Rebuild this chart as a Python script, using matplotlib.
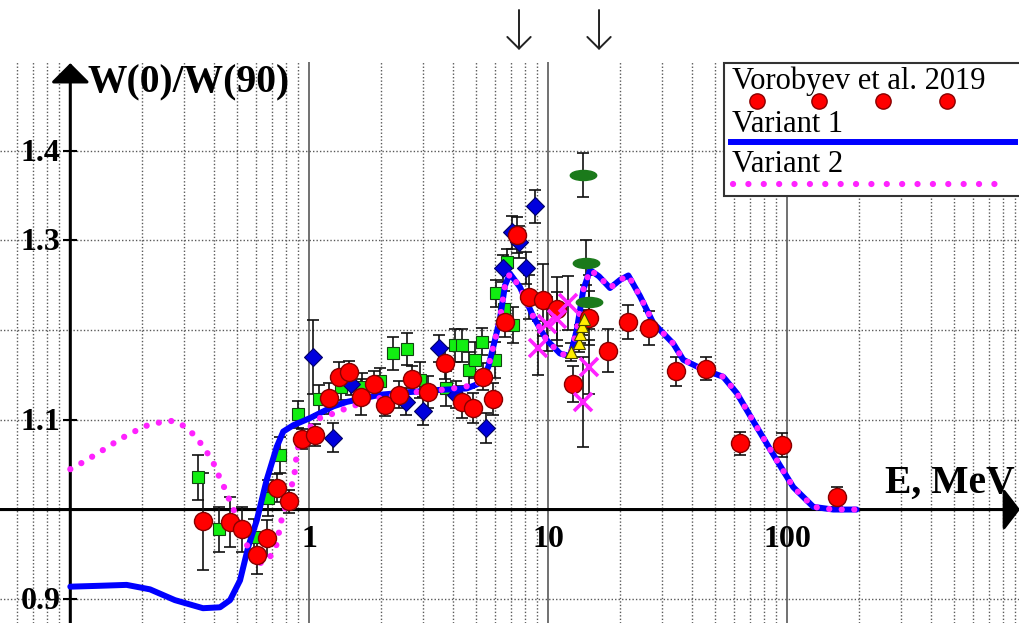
"""W(0)/W(90) angular-anisotropy comparison: Vorobyev et al. 2019 vs two model variants."""
import matplotlib

matplotlib.use("Agg")
import matplotlib.pyplot as plt
from matplotlib.patches import Rectangle
from matplotlib.path import Path
from matplotlib.transforms import Affine2D

# ---- data (E in MeV, W = W(0)/W(90)) ----
vor_e = [0.358, 0.466, 0.525, 0.604, 0.663, 0.731, 0.826, 0.929, 1.056, 1.209,
         1.334, 1.470, 1.638, 1.861, 2.070, 2.381, 2.702, 3.147, 3.697, 4.355,
         4.841, 5.316, 5.888, 6.590, 7.417, 8.329, 9.475, 10.84, 12.69, 14.85,
         17.69, 21.56, 26.38, 34.21, 45.7, 63.4, 94.8, 161.0]
vor_w = [0.987, 0.986, 0.978, 0.949, 0.968, 1.024, 1.009, 1.079, 1.083, 1.124,
         1.148, 1.153, 1.125, 1.140, 1.117, 1.128, 1.145, 1.131, 1.163, 1.120,
         1.113, 1.148, 1.123, 1.209, 1.306, 1.237, 1.234, 1.224, 1.140, 1.214,
         1.177, 1.209, 1.202, 1.154, 1.157, 1.074, 1.072, 1.014]
vor_err = [0.054, 0.028, 0.025, 0.021, 0.020, 0.016, 0.013, 0.011, 0.012, 0.017,
           0.017, 0.013, 0.020, 0.015, 0.013, 0.015, 0.015, 0.018, 0.017, 0.018,
           0.017, 0.015, 0.018, 0.017, 0.020, 0.025, 0.040, 0.035, 0.020, 0.030,
           0.024, 0.019, 0.019, 0.016, 0.013, 0.013, 0.013, 0.011]

grn_e = [0.342, 0.420, 0.587, 0.674, 0.754, 0.899, 1.100, 1.351, 1.656, 1.970,
         2.246, 2.556, 2.918, 3.750, 4.051, 4.375, 4.659, 4.934, 5.266, 5.956,
         6.070, 6.496, 6.699, 7.139]
grn_w = [1.036, 0.978, 0.969, 1.013, 1.061, 1.106, 1.123, 1.137, 1.137, 1.143,
         1.174, 1.179, 1.144, 1.135, 1.183, 1.183, 1.156, 1.167, 1.187, 1.167,
         1.241, 1.224, 1.276, 1.206]
grn_err = [0.025, 0.025, 0.020, 0.020, 0.020, 0.015, 0.016, 0.015, 0.015, 0.015,
           0.018, 0.018, 0.020, 0.020, 0.018, 0.018, 0.020, 0.020, 0.015, 0.020,
           0.015, 0.020, 0.015, 0.020]

blu_e = [1.033, 1.251, 1.494, 2.539, 2.983, 3.499, 4.110, 5.512, 6.464, 7.05, 7.54, 8.03, 8.80]
blu_w = [1.170, 1.080, 1.140, 1.120, 1.110, 1.180, 1.128, 1.091, 1.269, 1.309, 1.298, 1.269, 1.338]
blu_err = [0.041, 0.016, 0.012, 0.015, 0.016, 0.015, 0.015, 0.017, 0.015, 0.018, 0.018, 0.018, 0.018]

crs_e = [9.08, 9.88, 10.87, 12.09, 13.97, 14.85]
crs_w = [1.180, 1.207, 1.212, 1.230, 1.120, 1.159]
crs_err = [0.030, 0.030, 0.030, 0.030, 0.050, 0.030]

yel_e = [12.44, 13.44, 13.57, 13.84, 14.11]
yel_w = [1.176, 1.186, 1.196, 1.205, 1.212]
yel_err = [0.010, 0.010, 0.010, 0.010, 0.010]

dsh_e = [14.01, 14.38, 14.85]
dsh_w = [1.373, 1.275, 1.231]
dsh_err = [0.025, 0.025, 0.030]

# model curves: low-energy parts differ, above ~5.6 MeV they coincide
v1_low_e = [0.1, 0.133, 0.172, 0.2156, 0.274, 0.359, 0.423, 0.466, 0.513, 0.556,
            0.603, 0.663, 0.731, 0.778, 0.857, 1.007, 1.26, 1.434, 1.976, 2.638,
            3.302, 4.557, 5.179]
v1_low_w = [0.914, 0.915, 0.916, 0.911, 0.899, 0.890, 0.891, 0.899, 0.921, 0.959,
            0.988, 1.033, 1.070, 1.087, 1.094, 1.102, 1.115, 1.120, 1.128, 1.131,
            1.133, 1.135, 1.141]
v2_low_e = [0.1, 0.1134, 0.129, 0.144, 0.1625, 0.1824, 0.2054, 0.2357, 0.270, 0.305,
            0.338, 0.366, 0.394, 0.416, 0.440, 0.4626, 0.489, 0.513, 0.538, 0.565,
            0.606, 0.674, 0.726, 0.766, 0.799, 0.830, 0.863, 0.877, 0.891, 0.920,
            1.007, 1.109, 1.26, 1.434, 1.630, 1.853, 2.141, 2.474, 2.814, 3.757,
            4.984, 5.433]
v2_low_w = [1.045, 1.053, 1.062, 1.070, 1.079, 1.086, 1.093, 1.097, 1.099, 1.092,
            1.080, 1.067, 1.054, 1.039, 1.025, 1.011, 0.996, 0.981, 0.966, 0.952,
            0.939, 0.944, 0.959, 0.989, 1.005, 1.021, 1.035, 1.052, 1.066, 1.081,
            1.092, 1.102, 1.107, 1.113, 1.118, 1.123, 1.126, 1.129, 1.131, 1.134,
            1.139, 1.150]
shared_e = [5.61, 5.98, 6.28, 6.59, 6.91, 7.61, 8.66, 9.85, 11.19, 12.33,
            13.15, 14.01, 14.95, 16.30, 18.12, 19.95, 21.62, 24.19, 27.49, 33.34,
            36.7, 44.5, 53.96, 61.4, 74.5, 90.3, 105.9, 128.5, 155.7, 195.0]
shared_w = [1.159, 1.189, 1.213, 1.250, 1.263, 1.248, 1.215, 1.189, 1.174, 1.171,
            1.200, 1.245, 1.267, 1.260, 1.247, 1.256, 1.261, 1.238, 1.208, 1.185,
            1.167, 1.156, 1.148, 1.130, 1.092, 1.055, 1.025, 1.003, 1.000, 1.000]

x_major = [1, 10, 100]
x_minor = [0.06, 0.07, 0.08, 0.09] + [m * d for d in (0.1, 1, 10, 100) for m in range(2, 10)]
y_grid = [0.9, 1.1, 1.2, 1.3, 1.4]
y_labels = {0.9: "0.9", 1.1: "1.1", 1.3: "1.3", 1.4: "1.4"}
arrow_energies = [7.54, 16.3]

FIG_W, FIG_H = 1020, 623
SERIF = "Liberation Serif"
RED, BLUE, MAG = "#ff0000", "#0000ff", "#ff22ff"

# flat ellipse marker for the dark-green points
DASH_MARKER = Path.unit_circle().transformed(Affine2D().scale(1.0, 0.38))


def main() -> None:
    fig = plt.figure(figsize=(FIG_W / 100, FIG_H / 100), dpi=100)
    ax = fig.add_axes([0, 0, 1, (FIG_H - 62) / FIG_H])
    ax.set_xscale("log")
    ax.set_xlim(0.0508, 941)
    ax.set_ylim(0.8735, 1.499)
    for s in ax.spines.values():
        s.set_visible(False)

    ax.set_xticks(x_major)
    ax.set_xticks(x_minor, minor=True)
    ax.set_yticks([])
    ax.set_yticks(y_grid, minor=True)
    ax.tick_params(which="both", length=0, labelbottom=False, labelleft=False)
    ax.grid(True, which="major", axis="x", color="0.4", lw=1.3, ls="-", zorder=0)
    ax.grid(True, which="minor", color="0.35", lw=1.0, ls=(0, (1, 1.5)), zorder=0)

    # axes with arrow heads
    ax.annotate("", xy=(1.0, 1.0), xycoords=("axes fraction", "data"),
                xytext=(0.0, 1.0), textcoords=("axes fraction", "data"),
                arrowprops=dict(arrowstyle="-|>,head_length=0.5,head_width=0.65",
                                lw=2.2, color="k", mutation_scale=20, shrinkA=0, shrinkB=0),
                zorder=2)
    ax.annotate("", xy=(0.1, 0.998), xycoords=("data", "axes fraction"),
                xytext=(0.1, 0.0), textcoords=("data", "axes fraction"),
                arrowprops=dict(arrowstyle="-|>,head_length=0.6,head_width=0.6",
                                lw=2.2, color="k", mutation_scale=20, shrinkA=0, shrinkB=0),
                zorder=2)

    tick_font = dict(family=SERIF, fontsize=23, fontweight="bold")
    for v, lab in y_labels.items():
        ax.plot([0.1], [v], marker="_", ms=10, mew=1.5, color="k", zorder=2)
        ax.annotate(lab, xy=(0.1, v), xytext=(-10, -10), textcoords="offset pixels",
                    ha="right", va="baseline", **tick_font)
    for v in x_major:
        ax.annotate(f"{v:g}", xy=(v, 1.0), xytext=(0, -37), textcoords="offset pixels",
                    ha="center", va="baseline", **tick_font)

    # data sets
    eb = dict(fmt="none", ecolor="#111111", elinewidth=1.2, capsize=4, capthick=1.2, zorder=3)
    ax.errorbar(grn_e, grn_w, yerr=grn_err, **eb)
    ax.errorbar(blu_e, blu_w, yerr=blu_err, **eb)
    ax.errorbar(crs_e, crs_w, yerr=crs_err, **eb)
    ax.errorbar(yel_e, yel_w, yerr=yel_err, **eb)
    ax.errorbar(dsh_e, dsh_w, yerr=dsh_err, **eb)
    ax.errorbar(vor_e, vor_w, yerr=vor_err, **eb)

    ax.plot(grn_e, grn_w, "s", ms=9, mfc="#11ee11", mec="#114411", mew=0.8, zorder=4)
    ax.plot(blu_e, blu_w, "D", ms=9.5, mfc="#0000dd", mec="#000066", mew=0.8, zorder=4)

    ax.plot(v1_low_e + shared_e, v1_low_w + shared_w, color=BLUE, lw=4.3,
            solid_joinstyle="round", solid_capstyle="round", zorder=5)
    ax.plot(v2_low_e + shared_e, v2_low_w + shared_w, color=MAG, lw=4.5,
            ls=(0, (0.01, 2.0)), dash_capstyle="round", zorder=5)

    ax.plot(vor_e, vor_w, "o", ms=13, mfc=RED, mec="#880000", mew=1.0, zorder=6)
    ax.plot(crs_e, crs_w, "x", ms=13, mew=2.6, color=MAG, zorder=6)
    ax.plot(yel_e, yel_w, "^", ms=9, mfc="#ffee00", mec="#444400", mew=0.8, zorder=6)
    ax.plot(dsh_e, dsh_w, marker=DASH_MARKER, ls="none", ms=19, mfc="#1b7a1b",
            mec="#1b7a1b", zorder=6)

    # energy markers above the frame
    for e in arrow_energies:
        ax.annotate("", xy=(e, FIG_H - 50), xycoords=("data", "figure pixels"),
                    xytext=(e, FIG_H - 10), textcoords=("data", "figure pixels"),
                    annotation_clip=False,
                    arrowprops=dict(arrowstyle="->,head_length=0.6,head_width=0.6",
                                    lw=1.4, color="#222222", mutation_scale=14,
                                    shrinkA=0, shrinkB=0))

    # overlay in pixel units: axis titles and legend
    ov = fig.add_axes([0, 0, 1, 1], zorder=5)
    ov.set_xlim(0, FIG_W)
    ov.set_ylim(FIG_H, 0)
    ov.axis("off")
    label_font = dict(family=SERIF, fontsize=28.5, fontweight="bold", va="baseline")
    ov.text(88, 92, "W(0)/W(90)", **label_font)
    ov.text(1015, 493, "E, MeV", ha="right", **label_font)

    ov.add_patch(Rectangle((724, 62.5), 320, 133.5, facecolor="white",
                           edgecolor="#333333", lw=1.5))
    leg_font = dict(family=SERIF, fontsize=22, va="baseline")
    ov.text(732, 89, "Vorobyev et al. 2019", **leg_font)
    ov.plot([756.7, 819.3, 882.7, 946.7], [100.7] * 4, "o", ms=11, mfc=RED,
            mec="#880000", mew=1.0)
    ov.text(732, 131.5, "Variant 1", **leg_font)
    ov.plot([731, 1015], [141.7, 141.7], color=BLUE, lw=4.3)
    ov.text(732, 171.5, "Variant 2", **leg_font)
    ov.plot([733, 1006], [184.3, 184.3], color=MAG, lw=4.5,
            ls=(0, (0.01, 2.45)), dash_capstyle="round")

    fig.savefig("out.png", dpi=100)
    plt.close(fig)


if __name__ == "__main__":
    main()
